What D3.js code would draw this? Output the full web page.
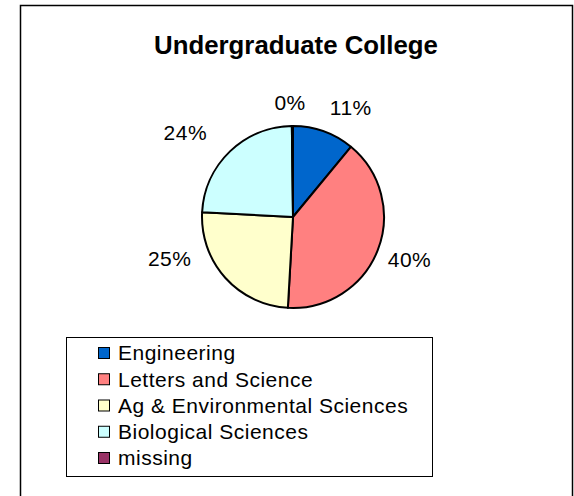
<!DOCTYPE html>
<html>
<head>
<meta charset="utf-8">
<script src="https://cdn.jsdelivr.net/npm/d3@7/dist/d3.min.js"></script>
<style>
  html, body { margin: 0; padding: 0; background: #fff; }
  svg { display: block; font-family: Arial, "Liberation Sans", sans-serif; }
</style>
</head>
<body>
<svg id="chart" width="574" height="496"></svg>
<script>
// Share of students by undergraduate college (percent)
const colleges = ["Engineering", "Letters and Science", "Ag & Environmental Sciences", "Biological Sciences", "missing"];
const shares = [11, 40, 25, 24, 0.2];
const shareLabels = ["11%", "40%", "25%", "24%", "0%"];
const colors = ["#0066CC", "#FF8080", "#FFFFCC", "#CCFFFF", "#993366"];

// best-fit placement of the percentage labels: angle nudge (deg) from the
// slice's mid-angle and distance from the pie centre (px)
const labelPlacement = {
  "Engineering":                 { nudge: 8,    dist: 124 },
  "Letters and Science":         { nudge: -1.3, dist: 124 },
  "Ag & Environmental Sciences": { nudge: 23.4, dist: 130 },
  "Biological Sciences":         { nudge: -8,   dist: 137 },
  "missing":                     { nudge: -1.1, dist: 114 }
};

const svg = d3.select("#chart");

// outer chart frame
svg.append("rect")
  .attr("x", 20.5).attr("y", 5.5)
  .attr("width", 552).attr("height", 500)
  .attr("fill", "#fff").attr("stroke", "#000").attr("stroke-width", 1.5);

svg.append("text")
  .attr("x", 296).attr("y", 54)
  .attr("text-anchor", "middle")
  .attr("font-size", 25.8).attr("font-weight", "bold")
  .text("Undergraduate College");

const cx = 293, cy = 217, r = 91;
const data = colleges.map((c, i) => ({ name: c, value: shares[i], label: shareLabels[i], color: colors[i] }));

const pie = d3.pie().sort(null).value(d => d.value);
const arcs = pie(data);
const arc = d3.arc().innerRadius(0).outerRadius(r);

const g = svg.append("g").attr("transform", `translate(${cx},${cy})`);
g.selectAll("path.slice")
  .data(arcs)
  .join("path")
  .attr("class", "slice")
  .attr("d", arc)
  .attr("fill", d => d.data.color)
  .attr("stroke", "#000")
  .attr("stroke-width", 2)
  .attr("stroke-linejoin", "round");

g.selectAll("text.pct")
  .data(arcs)
  .join("text")
  .attr("class", "pct")
  .attr("transform", d => {
    const p = labelPlacement[d.data.name];
    const a = (d.startAngle + d.endAngle) / 2 + p.nudge * Math.PI / 180;
    return `translate(${Math.sin(a) * p.dist},${-Math.cos(a) * p.dist})`;
  })
  .attr("text-anchor", "middle")
  .attr("dy", "0.35em")
  .attr("font-size", 21)
  .attr("letter-spacing", 0.5)
  .text(d => d.data.label);

// legend
const lg = svg.append("g");
lg.append("rect")
  .attr("x", 66.5).attr("y", 337.5)
  .attr("width", 366).attr("height", 139)
  .attr("fill", "#fff").attr("stroke", "#000").attr("stroke-width", 1);

const rowY = d3.scalePoint().domain(colleges).range([353, 458]);
const items = lg.selectAll("g.item").data(data).join("g").attr("class", "item")
  .attr("transform", d => `translate(0,${rowY(d.name)})`);
items.append("rect")
  .attr("x", 98.5).attr("y", -5.5)
  .attr("width", 11).attr("height", 11)
  .attr("fill", d => d.color).attr("stroke", "#000").attr("stroke-width", 1);
items.append("text")
  .attr("x", 118).attr("y", 0)
  .attr("dy", "0.35em")
  .attr("font-size", 21)
  .attr("letter-spacing", 0.5)
  .text(d => d.name);
</script>
</body>
</html>
